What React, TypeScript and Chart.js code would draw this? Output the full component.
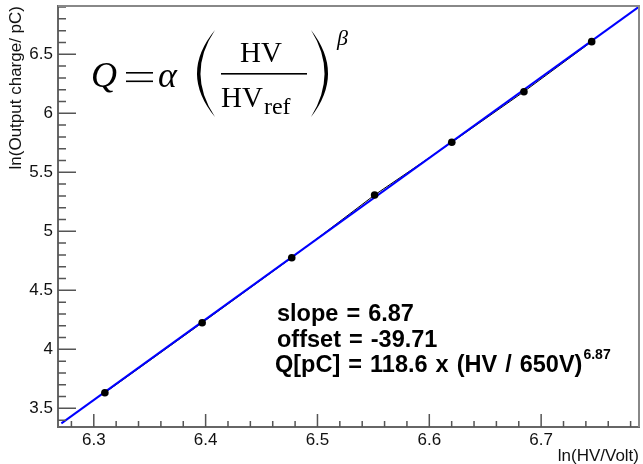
import React, { useEffect, useRef } from 'react';
import { Chart, registerables } from 'chart.js';

Chart.register(...registerables);

// ln(HV / Volt) for HV = 550 ... 850 V
const hvLogValues = [6.3099, 6.3969, 6.477, 6.5511, 6.6201, 6.6846, 6.7452];
// ln(Output charge / pC)
const chargeLogValues = [3.632, 4.225, 4.776, 5.308, 5.754, 6.183, 6.607];
// fitted straight line end points (blue)
const fitLineX = [6.271, 6.787];
const fitLineY = [3.373, 6.9];
// axis ranges
const xRange = [6.268, 6.7875];
const yRange = [3.342, 6.909];
const xTickStep = 0.02;
const yTickStep = 0.1;
const xTitle = 'ln(HV/Volt)';
const yTitle = 'ln(Output charge/ pC)';
const fitTextLines = ['slope = 6.87', 'offset = -39.71', 'Q[pC] = 118.6 x (HV / 650V)'];
const fitExponent = '6.87';

const isMajorX = (v: number) => Math.abs(v * 10 - Math.round(v * 10)) < 1e-6;
const isMajorY = (v: number) => Math.abs(v * 2 - Math.round(v * 2)) < 1e-6;

const SANS = '"Liberation Sans", Arial, sans-serif';
const SERIF = '"Liberation Serif", "Times New Roman", serif';

const decorPlugin = {
  id: 'decor',
  afterDatasetsDraw(chart: any) {
    const { ctx, chartArea: a, scales } = chart;
    const x = scales.x;
    const y = scales.y;
    ctx.save();
    ctx.strokeStyle = '#555';
    ctx.lineWidth = 1.5;
    ctx.beginPath();
    x.ticks.forEach((t: any) => {
      const px = x.getPixelForValue(t.value);
      const len = isMajorX(t.value) ? 13 : 6;
      ctx.moveTo(px, a.bottom);
      ctx.lineTo(px, a.bottom - len);
    });
    y.ticks.forEach((t: any) => {
      const py = y.getPixelForValue(t.value);
      const len = isMajorY(t.value) ? 18 : 8;
      ctx.moveTo(a.left, py);
      ctx.lineTo(a.left + len, py);
    });
    ctx.stroke();
    // frame top & right
    ctx.strokeStyle = '#888';
    ctx.lineWidth = 2;
    ctx.beginPath();
    ctx.moveTo(a.left, a.top);
    ctx.lineTo(a.right, a.top);
    ctx.lineTo(a.right, a.bottom);
    ctx.stroke();
    ctx.restore();
  },
  afterDraw(chart: any) {
    const { ctx } = chart;
    ctx.save();
    ctx.fillStyle = '#000';
    ctx.textBaseline = 'alphabetic';
    ctx.textAlign = 'left';
    // Formula Q = alpha (HV/HVref)^beta
    ctx.font = `italic 36px ${SERIF}`;
    ctx.fillText('Q', 91, 87);
    ctx.fillRect(126, 72, 27, 1.6);
    ctx.fillRect(126, 80.5, 27, 1.6);
    ctx.fillText('\u03B1', 158, 87);
    // parentheses
    ctx.beginPath();
    ctx.moveTo(215, 30);
    ctx.quadraticCurveTo(179, 73.5, 215, 117);
    ctx.quadraticCurveTo(186, 73.5, 215, 30);
    ctx.fill();
    ctx.beginPath();
    ctx.moveTo(311, 30);
    ctx.quadraticCurveTo(345, 73.5, 311, 117);
    ctx.quadraticCurveTo(338, 73.5, 311, 30);
    ctx.fill();
    ctx.font = `29px ${SERIF}`;
    ctx.fillText('HV', 240, 62);
    ctx.fillRect(221, 73, 86, 1.6);
    ctx.fillText('HV', 221, 107);
    const hvw = ctx.measureText('HV').width;
    ctx.font = `24px ${SERIF}`;
    ctx.fillText('ref', 221 + hvw + 1, 114);
    ctx.font = `italic 22px ${SERIF}`;
    ctx.fillText('\u03B2', 337, 45);
    // fit results
    ctx.font = `bold 23.5px ${SANS}`;
    (ctx as any).wordSpacing = '1.5px';
    ctx.fillText(fitTextLines[0], 277, 321);
    ctx.fillText(fitTextLines[1], 277, 347);
    ctx.fillText(fitTextLines[2], 275, 372);
    const w3 = ctx.measureText(fitTextLines[2]).width;
    ctx.font = `bold 14px ${SANS}`;
    (ctx as any).wordSpacing = '0px';
    ctx.fillText(fitExponent, 275 + w3 + 1, 359);
    ctx.restore();
  },
};

export default function App() {
  const ref = useRef<HTMLCanvasElement | null>(null);
  useEffect(() => {
    document.body.style.margin = '0';
    const canvas = ref.current;
    if (!canvas) return;
    const points = hvLogValues.map((v, i) => ({ x: v, y: chargeLogValues[i] }));
    const fit = fitLineX.map((v, i) => ({ x: v, y: fitLineY[i] }));
    const chart = new Chart(canvas, {
      type: 'scatter',
      data: {
        datasets: [
          {
            data: points,
            showLine: false,
            pointRadius: 3.8,
            pointBackgroundColor: '#000',
            pointBorderColor: '#000',
            pointBorderWidth: 0,
            order: 0,
          },
          {
            data: fit,
            showLine: true,
            borderColor: '#0000ff',
            borderWidth: 2,
            pointRadius: 0,
            order: 1,
          },
          {
            data: points,
            showLine: true,
            borderColor: '#000',
            borderWidth: 1,
            pointRadius: 0,
            order: 2,
          },
        ],
      },
      options: {
        responsive: false,
        animation: false,
        devicePixelRatio: 1,
        layout: { padding: { top: 6, right: 4, left: 0, bottom: 0 } },
        plugins: { legend: { display: false }, tooltip: { enabled: false } },
        scales: {
          x: {
            type: 'linear',
            min: xRange[0],
            max: xRange[1],
            grid: { display: false, drawTicks: false },
            border: { display: true, color: '#666', width: 2 },
            ticks: {
              stepSize: xTickStep,
              autoSkip: false,
              includeBounds: false,
              maxRotation: 0,
              padding: 3,
              color: '#111',
              font: { family: SANS, size: 17 },
              callback: (v: any) => (isMajorX(Number(v)) ? Number(v).toFixed(1) : ''),
            },
            title: {
              display: true,
              text: xTitle,
              align: 'end',
              color: '#111',
              font: { family: SANS, size: 17 },
              padding: { top: -3, bottom: -3 },
            },
            afterFit: (s: any) => {
              s.height = 37;
              s.paddingLeft = 0;
              s.paddingRight = 0;
            },
          },
          y: {
            type: 'linear',
            min: yRange[0],
            max: yRange[1],
            grid: { display: false, drawTicks: false },
            border: { display: true, color: '#666', width: 2 },
            ticks: {
              stepSize: yTickStep,
              autoSkip: false,
              includeBounds: false,
              padding: 5,
              color: '#111',
              font: { family: SANS, size: 17 },
              callback: (v: any) => (isMajorY(Number(v)) ? String(Math.round(Number(v) * 2) / 2) : ''),
            },
            title: {
              display: true,
              text: yTitle,
              align: 'end',
              color: '#111',
              font: { family: SANS, size: 17 },
              padding: { top: 6, bottom: 0 },
            },
            afterFit: (s: any) => {
              s.width = 58;
              s.paddingTop = 0;
              s.paddingBottom = 0;
            },
          },
        },
      },
      plugins: [decorPlugin],
    });
    return () => chart.destroy();
  }, []);
  return <canvas ref={ref} width={643} height={464} style={{ display: 'block', width: 643, height: 464 }} />;
}
